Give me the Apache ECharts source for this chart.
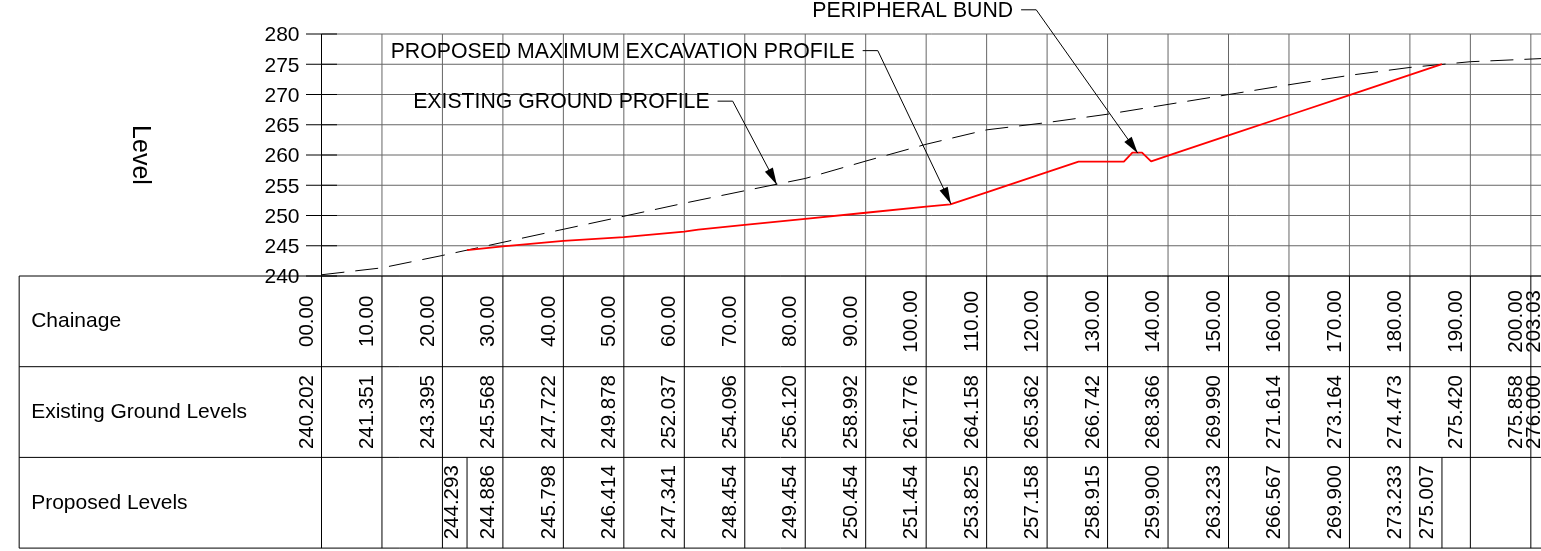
<!DOCTYPE html>
<html>
<head>
<meta charset="utf-8">
<title>Level profile</title>
<script src="https://cdn.jsdelivr.net/npm/echarts@6/dist/echarts.min.js"></script>
<style>
  html, body { margin: 0; padding: 0; background: #fff; }
  #chart { width: 1541px; height: 551px; }
</style>
</head>
<body>
<div id="chart"></div>
<script>
// table columns
var chainage = [0, 10, 20, 30, 40, 50, 60, 70, 80, 90, 100, 110, 120, 130, 140, 150, 160, 170, 180, 190, 200, 203.03]
var chainageLabels = ['00.00', '10.00', '20.00', '30.00', '40.00', '50.00', '60.00', '70.00', '80.00', '90.00', '100.00', '110.00', '120.00', '130.00', '140.00', '150.00', '160.00', '170.00', '180.00', '190.00', '200.00', '203.03']
var existingLevels = [240.202, 241.351, 243.395, 245.568, 247.722, 249.878, 252.037, 254.096, 256.120, 258.992, 261.776, 264.158, 265.362, 266.742, 268.366, 269.990, 271.614, 273.164, 274.473, 275.420, 275.858, 276.000]
var proposedChainage = [24.07, 30, 40, 50, 60, 70, 80, 90, 100, 110, 120, 130, 140, 150, 160, 170, 180, 185.3]
var proposedLevels = [244.293, 244.886, 245.798, 246.414, 247.341, 248.454, 249.454, 250.454, 251.454, 253.825, 257.158, 258.915, 259.900, 263.233, 266.567, 269.900, 273.233, 275.007]

// red profile, with the break points between the tabulated stations
var excavationChainage = [24.07, 30, 40, 50, 60, 62.3, 70, 80, 90, 100, 104, 110, 120, 125.2, 132.7, 134.1, 135.7, 137.2, 140, 150, 160, 170, 180, 185.3]
var excavationLevels = [244.293, 244.886, 245.798, 246.414, 247.341, 247.68, 248.454, 249.454, 250.454, 251.454, 251.84, 253.825, 257.158, 258.9, 258.915, 260.4, 260.4, 258.95, 259.900, 263.233, 266.567, 269.900, 273.233, 275.007]

var levelTicks = [240, 245, 250, 255, 260, 265, 270, 275, 280]
var gridChainage = [0, 10, 20, 30, 40, 50, 60, 70, 80, 90, 100, 110, 120, 130, 140, 150, 160, 170, 180, 190, 200]
var rowNames = ['Chainage', 'Existing Ground Levels', 'Proposed Levels']

// callouts: label end, elbow and arrow tip, in chainage / level
var noteTexts = ['PERIPHERAL BUND', 'PROPOSED MAXIMUM EXCAVATION PROFILE', 'EXISTING GROUND PROFILE']
var noteStartChainage = [115.7, 89.5, 65.5]
var noteElbowChainage = [118.2, 92.0, 68.0]
var noteLevels = [284.0, 277.25, 268.9]
var noteTipChainage = [135.0, 104.1, 75.3]
var noteTipLevels = [260.3, 251.9, 255.1]

var FONT_FAMILY = '"Liberation Sans", Arial, sans-serif'
var GRAY = '#666666'
var PX_PER_M = 6.0467
var LEFT = 321.5

function seg(a, b, color, width) {
  return {
    type: 'line',
    shape: { x1: a[0], y1: a[1], x2: b[0], y2: b[1] },
    style: { stroke: color, lineWidth: width || 1, fill: null }
  }
}

function label(text, x, y, size, rotated, align) {
  return {
    type: 'text',
    x: x,
    y: y,
    rotation: rotated ? Math.PI / 2 : 0,
    style: { text: text, font: size + 'px ' + FONT_FAMILY, fill: '#000', textAlign: align, textVerticalAlign: 'middle' }
  }
}

// plot area lines, ticks cross the axis on both sides
function renderPlotGrid(params, api) {
  var out = []
  gridChainage.forEach(function (c) {
    if (c !== 0) out.push(seg(api.coord([c, 280]), api.coord([c, 240]), GRAY))
  })
  levelTicks.forEach(function (v) {
    var p = api.coord([0, v])
    out.push(seg(p, api.coord([203.03, v]), GRAY))
    out.push(seg([p[0] - 15.5, p[1]], [p[0] + 15.5, p[1]], '#000'))
  })
  out.push(seg(api.coord([0, 280]), api.coord([0, 240]), '#000'))
  return { type: 'group', children: out }
}

function renderTable(params, api) {
  var out = []
  var i
  for (i = 0; i <= 3; i++) {
    out.push(seg(api.coord([-50, i]), api.coord([203.03, i]), '#000'))
  }
  out.push(seg(api.coord([-50, 0]), api.coord([-50, 3]), '#000'))
  chainage.forEach(function (c) {
    out.push(seg(api.coord([c, 0]), api.coord([c, 3]), '#000'))
  })
  out.push(seg(api.coord([proposedChainage[0], 2]), api.coord([proposedChainage[0], 3]), '#000'))
  out.push(seg(api.coord([proposedChainage[17], 2]), api.coord([proposedChainage[17], 3]), '#000'))

  rowNames.forEach(function (name, r) {
    var p = api.coord([-50, r + 0.5])
    out.push(label(name, p[0] + 12, p[1], 21, false, 'left'))
  })
  // numbers stand just left of their column line, centred in the row
  chainage.forEach(function (c, j) {
    var a = api.coord([c, 0.5])
    out.push(label(chainageLabels[j], a[0] - 14.5, a[1], 20.5, true, 'center'))
    var b = api.coord([c, 1.5])
    out.push(label(existingLevels[j].toFixed(3), b[0] - 14.5, b[1], 20.5, true, 'center'))
  })
  proposedChainage.forEach(function (c, j) {
    var d = api.coord([c, 2.5])
    out.push(label(proposedLevels[j].toFixed(3), d[0] - 14.5, d[1] - 0.5, 20.5, true, 'center'))
  })
  return { type: 'group', children: out }
}

// level numbers sit a little under their tick, so they go on top of the table line here
function renderLevelLabels(params, api) {
  var out = levelTicks.map(function (v) {
    var p = api.coord([0, v])
    return label(String(v), p[0] - 22, p[1] + 1.5, 21, false, 'right')
  })
  return { type: 'group', children: out }
}

function renderNotes(params, api) {
  var out = []
  noteTexts.forEach(function (text, i) {
    var start = api.coord([noteStartChainage[i], noteLevels[i]])
    var elbow = api.coord([noteElbowChainage[i], noteLevels[i]])
    var tip = api.coord([noteTipChainage[i], noteTipLevels[i]])
    out.push(label(text, start[0] - 8, start[1] + 1.2, 21.25, false, 'right'))
    out.push(seg(start, elbow, '#000'))
    out.push(seg(elbow, tip, '#000'))
    // arrow head
    var dx = tip[0] - elbow[0]
    var dy = tip[1] - elbow[1]
    var len = Math.sqrt(dx * dx + dy * dy)
    var ux = dx / len
    var uy = dy / len
    var bx = tip[0] - ux * 17
    var by = tip[1] - uy * 17
    out.push({
      type: 'polygon',
      shape: { points: [tip, [bx - uy * 4.5, by + ux * 4.5], [bx + uy * 4.5, by - ux * 4.5]] },
      style: { fill: '#000' }
    })
  })
  return { type: 'group', children: out }
}

var chart = echarts.init(document.getElementById('chart'))

chart.setOption({
  animation: false,
  backgroundColor: '#fff',
  grid: [
    // last column runs past the window, so the grid must not be pulled back inside
    { left: LEFT, top: 34, width: 203.03 * PX_PER_M, height: 242, outerBoundsMode: 'none' },
    { left: LEFT - 50 * PX_PER_M, top: 276, width: 253.03 * PX_PER_M, height: 272.1, outerBoundsMode: 'none' }
  ],
  xAxis: [
    { type: 'value', gridIndex: 0, min: 0, max: 203.03, show: false },
    { type: 'value', gridIndex: 1, min: -50, max: 203.03, show: false }
  ],
  yAxis: [
    {
      type: 'value',
      gridIndex: 0,
      min: 240,
      max: 280,
      interval: 5,
      name: 'Level',
      nameLocation: 'middle',
      nameRotate: -90,
      nameGap: 169,
      nameTextStyle: { fontSize: 25, fontFamily: 'Liberation Sans', color: '#000' },
      axisLine: { show: false },
      axisTick: { show: false },
      splitLine: { show: false },
      axisLabel: { show: false }
    },
    { type: 'value', gridIndex: 1, min: 0, max: 3, inverse: true, show: false }
  ],
  series: [
    {
      type: 'custom',
      xAxisIndex: 0,
      yAxisIndex: 0,
      z: 1,
      silent: true,
      data: [[0, 240]],
      renderItem: renderPlotGrid
    },
    {
      type: 'custom',
      xAxisIndex: 1,
      yAxisIndex: 1,
      z: 1,
      silent: true,
      data: [[0, 0]],
      renderItem: renderTable
    },
    {
      name: 'Existing Ground Levels',
      type: 'line',
      xAxisIndex: 0,
      yAxisIndex: 0,
      z: 3,
      silent: true,
      showSymbol: false,
      clip: false,
      data: chainage.map(function (c, i) { return [c, existingLevels[i]] }),
      lineStyle: { color: '#000', width: 1, type: [23, 11] }
    },
    {
      name: 'Proposed Levels',
      type: 'line',
      xAxisIndex: 0,
      yAxisIndex: 0,
      z: 3,
      silent: true,
      showSymbol: false,
      clip: false,
      data: excavationChainage.map(function (c, i) { return [c, excavationLevels[i]] }),
      lineStyle: { color: '#ff0000', width: 1.8 }
    },
    {
      type: 'custom',
      xAxisIndex: 0,
      yAxisIndex: 0,
      z: 4,
      silent: true,
      data: [[0, 240]],
      renderItem: renderNotes
    },
    {
      type: 'custom',
      xAxisIndex: 0,
      yAxisIndex: 0,
      z: 5,
      silent: true,
      data: [[0, 240]],
      renderItem: renderLevelLabels
    }
  ]
})
</script>
</body>
</html>
